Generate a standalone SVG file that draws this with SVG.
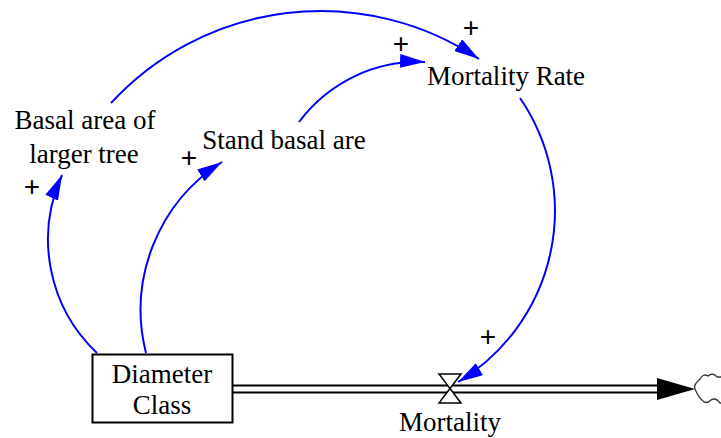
<svg xmlns="http://www.w3.org/2000/svg" width="721" height="438" viewBox="0 0 721 438">
<style>
.lbl{font-family:"Liberation Serif","Times New Roman",serif;font-size:27px;fill:#000;text-anchor:middle}
.pl{font-family:"Liberation Sans",Arial,sans-serif;font-size:28px;fill:#000;text-anchor:middle}
.lnk{fill:none;stroke:#0000FF;stroke-width:2;marker-end:url(#ah)}
</style>
<defs>
<marker id="ah" markerUnits="userSpaceOnUse" markerWidth="26" markerHeight="14" refX="25" refY="7" orient="auto">
<path d="M0,0 L25,7 L0,14 Z" fill="#0000FF"/>
</marker>
</defs>
<rect width="721" height="438" fill="#fff"/>
<g id="flow-pipe">
<line x1="233" y1="385.5" x2="660" y2="385.5" stroke="#000" stroke-width="2"/>
<line x1="233" y1="392.5" x2="660" y2="392.5" stroke="#000" stroke-width="2"/>
<path d="M657,378 L695,389 L657,400 Z" fill="#000"/>
</g>
<g id="cloud">
<path d="M695,389 C693,385 697,382 700,379 C702,375 705,374 708,376 C711,373 715,374 717,377 L721,377 M695,389 C697,394 699,398 703,401 C706,404 709,402 711,400 C714,398 717,399 720,403 L721,403" fill="none" stroke="#333" stroke-width="1.3"/>
</g>
<g id="connectors">
<path class="lnk" d="M111,103 A285,285 0 0 1 479,59"/>
<path class="lnk" d="M299,122 A149,149 0 0 1 425,62"/>
<path class="lnk" d="M520,98 A199.6,199.6 0 0 1 458,382"/>
<path class="lnk" d="M97,353 A156,156 0 0 1 62,175"/>
<path class="lnk" d="M146,353 A175.4,175.4 0 0 1 222,162"/>
<text class="pl" x="32" y="196">+</text>
<text class="pl" x="189" y="167">+</text>
<text class="pl" x="471" y="37">+</text>
<text class="pl" x="401" y="53">+</text>
<text class="pl" x="488" y="346">+</text>
</g>
<g id="diameter-class">
<rect x="92.5" y="354.5" width="140" height="68" fill="#fff" stroke="#000" stroke-width="2"/>
<text class="lbl" x="162" y="383">Diameter</text>
<text class="lbl" x="162" y="414">Class</text>
</g>
<g id="mortality">
<path d="M439,374 L461,374 L439,403 L461,403 Z" fill="#fff" stroke="#000" stroke-width="1.5" stroke-linejoin="miter"/>
<text class="lbl" x="450" y="431">Mortality</text>
</g>
<g id="basal-area-larger">
<text class="lbl" x="85" y="129">Basal area of</text>
<text class="lbl" x="84" y="163">larger tree</text>
</g>
<g id="stand-basal">
<text class="lbl" x="284" y="149">Stand basal are</text>
</g>
<g id="mortality-rate">
<text class="lbl" x="506" y="85">Mortality Rate</text>
</g>
</svg>
